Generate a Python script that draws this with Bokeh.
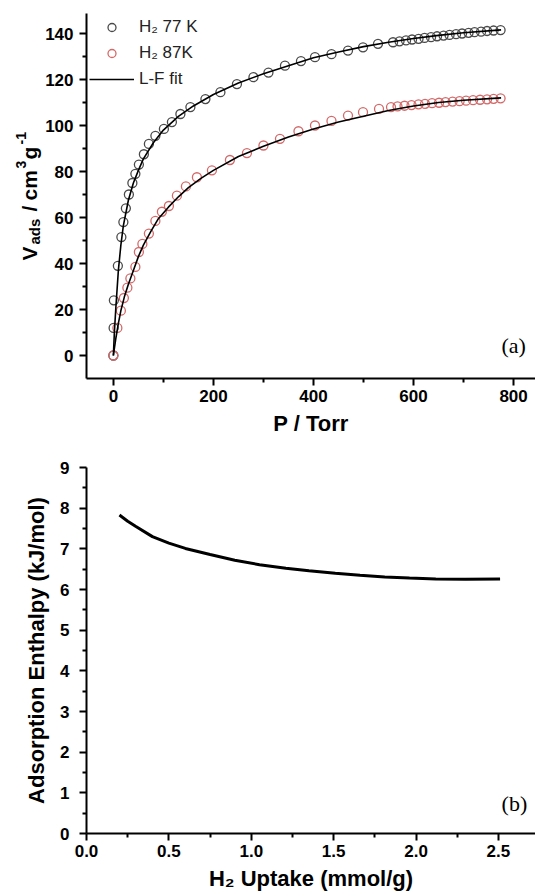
import numpy as np
from bokeh.plotting import figure
from bokeh.models import Range1d, FixedTicker, Label, Legend, LegendItem, PrintfTickFormatter
from bokeh.layouts import column, row
from bokeh.embed import file_html
from bokeh.resources import INLINE

# ---------------- data ----------------
# (a) H2 isotherms, P / Torr vs V_ads / cm3 g-1
p_77k = [0, 0.5, 1, 9, 16, 20, 25, 31, 38, 44, 51, 61, 71, 84, 101, 117, 134, 154,
         184, 214, 247, 280, 310, 343, 375, 403, 436, 469, 499, 529, 559, 572, 585,
         597, 610, 622, 635, 647, 660, 672, 685, 697, 710, 722, 735, 747, 760, 774]
v_77k = [0, 12, 24, 39, 51.5, 58, 64, 70, 75, 79, 83, 87.5, 92, 95.5, 98.5, 101.5, 105, 108,
         111.5, 114.5, 118, 121, 123, 126, 128, 129.7, 131, 132.6, 134, 135.5, 136.2, 136.6, 137.0,
         137.4, 137.7, 138.1, 138.4, 138.8, 139.1, 139.4, 139.7, 140.0, 140.3, 140.6, 140.8, 141.1, 141.3, 141.5]

p_87k = [0, 8, 15, 21, 28, 34, 44, 51, 58, 71, 84, 97, 111, 127, 145, 167, 197, 233, 267,
         300, 333, 370, 403, 436, 469, 499, 531, 555, 568, 582, 596, 610, 623, 637, 651,
         664, 678, 692, 705, 719, 733, 747, 760, 774]
v_87k = [0, 12, 19.5, 25, 29.5, 33.5, 38.5, 45, 48.5, 53, 58.5, 62.5, 65, 69.5, 73.5, 77.5, 80.5,
         85, 88, 91.3, 94.2, 97.5, 100, 102, 104.3, 105.8, 107.2, 108.0, 108.3, 108.6, 108.9,
         109.2, 109.4, 109.7, 109.9, 110.2, 110.4, 110.6, 110.8, 111.0, 111.2, 111.4, 111.6, 111.8]

# L-F fit curves
fit_p_77k = [0, 2, 5, 10, 15, 20, 30, 40, 50, 60, 80, 100, 130, 160, 200, 250, 300, 350,
             400, 450, 500, 550, 600, 650, 700, 775]
fit_v_77k = [0, 10, 21, 37, 48, 56.5, 67.5, 75, 80.5, 85.5, 92.5, 98, 104, 108.5, 113.5, 118.5,
             122.5, 126, 129.5, 132, 134.3, 136.2, 137.8, 139.2, 140.3, 141.6]
fit_p_87k = [0, 5, 10, 15, 22, 30, 40, 50, 60, 75, 90, 110, 130, 150, 175, 200, 250, 300, 350,
             400, 450, 500, 550, 600, 650, 700, 775]
fit_v_87k = [0, 7.5, 14, 19.5, 25.5, 31, 37, 43, 48, 54, 59.5, 64.5, 69, 73, 77, 80.5, 86.5, 91,
             95, 98.5, 101.5, 104, 106.5, 108.5, 110, 111, 112]

# (b) adsorption enthalpy
uptake = [0.20, 0.25, 0.30, 0.40, 0.50, 0.60, 0.75, 0.90, 1.05, 1.21, 1.35, 1.51, 1.66, 1.81,
          1.96, 2.12, 2.30, 2.51]
enthalpy = [7.83, 7.68, 7.55, 7.30, 7.14, 7.01, 6.86, 6.72, 6.61, 6.52, 6.46, 6.40, 6.35, 6.31,
            6.28, 6.26, 6.25, 6.26]

a_xticks = [0, 200, 400, 600, 800]
a_xminor = [100, 300, 500, 700]
a_yticks = [0, 20, 40, 60, 80, 100, 120, 140]
a_yminor = [10, 30, 50, 70, 90, 110, 130]
b_xticks = [0.0, 0.5, 1.0, 1.5, 2.0, 2.5]
b_xminor = [0.25, 0.75, 1.25, 1.75, 2.25]
b_yticks = [0, 1, 2, 3, 4, 5, 6, 7, 8, 9]
b_yminor = [0.5, 1.5, 2.5, 3.5, 4.5, 5.5, 6.5, 7.5, 8.5]

FONT = "Liberation Sans"
SERIF = "Liberation Serif"


def style_axis(ax, standoff):
    ax.axis_line_width = 2
    ax.axis_line_color = "black"
    ax.major_tick_line_width = 2
    ax.major_tick_line_color = "black"
    ax.major_tick_out = 7
    ax.major_tick_in = 0
    ax.minor_tick_line_width = 2
    ax.minor_tick_line_color = "black"
    ax.minor_tick_out = 4
    ax.minor_tick_in = 0
    ax.major_label_text_font = FONT
    ax.major_label_text_font_style = "bold"
    ax.major_label_text_font_size = "17px"
    ax.major_label_text_color = "black"
    ax.major_label_standoff = standoff
    ax.axis_label_text_font = FONT
    ax.axis_label_text_font_style = "bold"
    ax.axis_label_text_font_size = "22px"
    ax.axis_label_text_color = "black"


LAB_W = 42
TOP_H = 445
TOP_B = 13   # top border of panel (a)
BOT_B = 67   # bottom border of panel (a)

# ---------------- y-axis title of panel (a), with sub/superscripts ----------------
# its frame is aligned with panel (a)'s frame by the row, so the range spans that frame
plab = figure(width=LAB_W, height=TOP_H, output_backend="svg", toolbar_location=None,
              x_range=Range1d(0, LAB_W), y_range=Range1d(BOT_B, TOP_H - TOP_B),
              x_axis_location=None, y_axis_location=None,
              min_border_left=0, min_border_right=0, min_border_top=TOP_B, min_border_bottom=BOT_B)
plab.outline_line_color = None
plab.grid.visible = False
plab.border_fill_color = "white"

ylab_parts = [("V", 29, 260, "21px"), ("ads", 34, 244, "15px"), ("/", 29, 211, "21px"),
              ("cm", 29, 200, "21px"), ("3", 20, 168, "14px"), ("g", 29, 159, "21px"),
              ("-1", 20, 144, "14px")]
for txt, sx, sy, fs in ylab_parts:
    plab.add_layout(Label(x=sx, y=TOP_H - sy, text=txt, angle=np.pi / 2, text_font=FONT,
                          text_font_style="bold", text_font_size=fs, text_color="black",
                          text_align="left", text_baseline="alphabetic"))

# ---------------- panel (a) ----------------
p1 = figure(width=535 - LAB_W, height=TOP_H, output_backend="svg", toolbar_location=None,
            x_range=Range1d(-53.7, 843.8), y_range=Range1d(-10, 148.7),
            min_border_left=84 - LAB_W, min_border_right=0, min_border_top=TOP_B,
            min_border_bottom=BOT_B)
p1.outline_line_color = None
p1.grid.visible = False
p1.background_fill_color = "white"
p1.border_fill_color = "white"

p1.xaxis.ticker = FixedTicker(ticks=a_xticks, minor_ticks=a_xminor)
p1.yaxis.ticker = FixedTicker(ticks=a_yticks, minor_ticks=a_yminor)
style_axis(p1.xaxis[0], 4)
style_axis(p1.yaxis[0], 6)
p1.xaxis.axis_label = "P / Torr"
p1.xaxis.axis_label_standoff = 6

r77 = p1.scatter(p_77k, v_77k, marker="circle", size=9, fill_color=None,
                 line_color="#4a4a4a", line_width=1.3)
r87 = p1.scatter(p_87k, v_87k, marker="circle", size=9, fill_color=None,
                 line_color="#d36a6a", line_width=1.3)
rf77 = p1.line(fit_p_77k, fit_v_77k, line_color="black", line_width=1.6)
rf87 = p1.line(fit_p_87k, fit_v_87k, line_color="black", line_width=1.6)

legend = Legend(items=[LegendItem(label="H₂ 77 K", renderers=[r77]),
                       LegendItem(label="H₂ 87K", renderers=[r87]),
                       LegendItem(label="L-F fit", renderers=[rf77])],
                location=(3, 289), glyph_width=45, glyph_height=20, label_height=20,
                spacing=6, padding=0, margin=0, border_line_color=None,
                background_fill_alpha=0, label_text_font=FONT, label_text_font_size="17px",
                label_standoff=5, label_text_color="#222222")
p1.add_layout(legend)

p1.add_layout(Label(x=(513 - 111) / 0.5025, y=(355 - 345) / 2.3, text="(a)", text_font=SERIF,
                    text_font_size="22px", text_align="center", text_baseline="middle",
                    text_color="black"))

# ---------------- panel (b) ----------------
p2 = figure(width=535, height=451, output_backend="svg", toolbar_location=None,
            x_range=Range1d(0, 2.725), y_range=Range1d(0, 9),
            min_border_left=86, min_border_right=0, min_border_top=22, min_border_bottom=63)
p2.outline_line_color = None
p2.grid.visible = False
p2.background_fill_color = "white"
p2.border_fill_color = "white"

p2.xaxis.ticker = FixedTicker(ticks=b_xticks, minor_ticks=b_xminor)
p2.yaxis.ticker = FixedTicker(ticks=b_yticks, minor_ticks=b_yminor)
p2.xaxis.formatter = PrintfTickFormatter(format="%.1f")
style_axis(p2.xaxis[0], 4)
style_axis(p2.yaxis[0], 10)
p2.xaxis.axis_label = "H₂ Uptake (mmol/g)"
p2.yaxis.axis_label = "Adsorption Enthalpy (kJ/mol)"
p2.xaxis.axis_label_standoff = 6
p2.yaxis.axis_label_standoff = 8

p2.line(uptake, enthalpy, line_color="black", line_width=3)
p2.add_layout(Label(x=(514 - 86) / 164.8, y=(833 - 803) / 40.6, text="(b)", text_font=SERIF,
                    text_font_size="22px", text_align="center", text_baseline="middle",
                    text_color="black"))

layout = column(row(plab, p1), p2)
open("out.html", "w").write(file_html(layout, INLINE))
